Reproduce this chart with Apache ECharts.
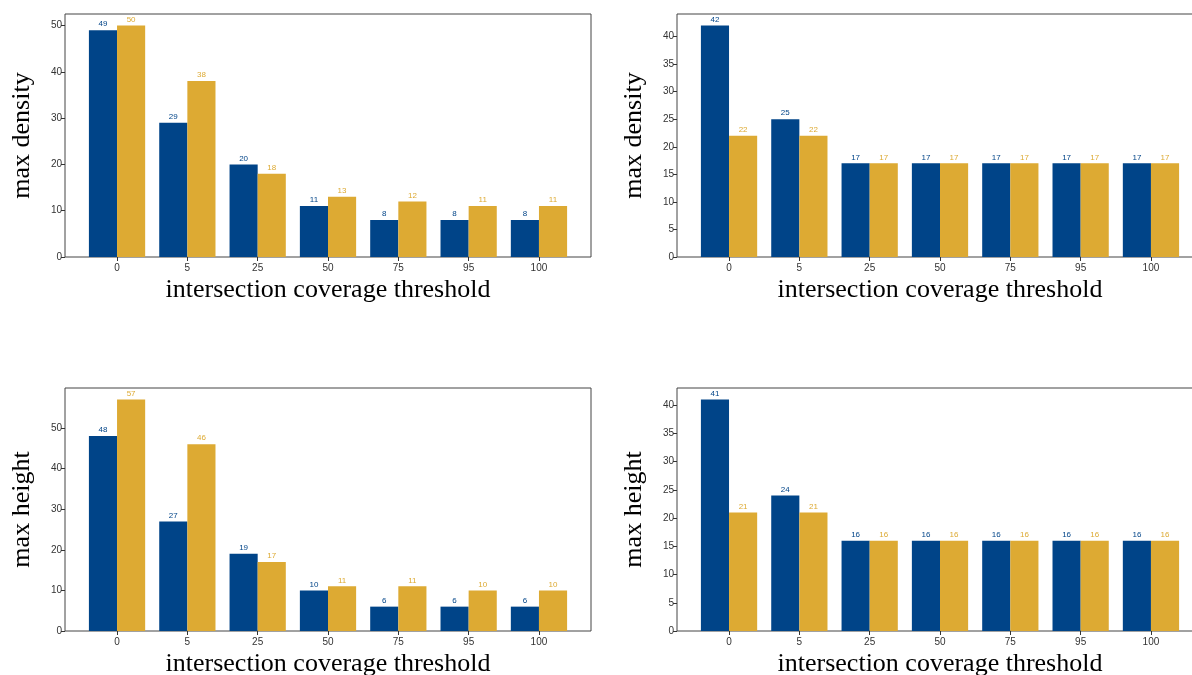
<!DOCTYPE html>
<html>
<head>
<meta charset="utf-8">
<script src="https://cdn.jsdelivr.net/npm/echarts@6/dist/echarts.min.js"></script>
<style>
  html, body { margin: 0; padding: 0; background: #fff; }
  #main { width: 1192px; height: 675px; }
</style>
</head>
<body>
<div id="main"></div>
<script>
// thresholds on the x axis
var categories = ["0", "5", "25", "50", "75", "95", "100"];

// top left: max density
var densityLeftBlue = [49, 29, 20, 11, 8, 8, 8];
var densityLeftGold = [50, 38, 18, 13, 12, 11, 11];
// top right: max density
var densityRightBlue = [42, 25, 17, 17, 17, 17, 17];
var densityRightGold = [22, 22, 17, 17, 17, 17, 17];
// bottom left: max height
var heightLeftBlue = [48, 27, 19, 10, 6, 6, 6];
var heightLeftGold = [57, 46, 17, 11, 11, 10, 10];
// bottom right: max height
var heightRightBlue = [41, 24, 16, 16, 16, 16, 16];
var heightRightGold = [21, 21, 16, 16, 16, 16, 16];

var yTicksTen = [0, 10, 20, 30, 40, 50];
var yTicksFive = [0, 5, 10, 15, 20, 25, 30, 35, 40];

var BLUE = "#004488",
  GOLD = "#DDAA33";

var chart = echarts.init(document.getElementById("main"));

// matplotlib style head room on top of the tallest bar
function yMax(a, b) {
  return Math.max.apply(null, a.concat(b)) * 1.05;
}

function toPoints(arr) {
  return arr.map(function(v, i) {
    return [i, v];
  });
}

var panels = [
  { left: 65, top: 14, name: "max density", ticks: yTicksTen, blue: densityLeftBlue, gold: densityLeftGold },
  { left: 677, top: 14, name: "max density", ticks: yTicksFive, blue: densityRightBlue, gold: densityRightGold },
  { left: 65, top: 388, name: "max height", ticks: yTicksTen, blue: heightLeftBlue, gold: heightLeftGold },
  { left: 677, top: 388, name: "max height", ticks: yTicksFive, blue: heightRightBlue, gold: heightRightGold }
];

var tickFont = { fontFamily: "Liberation Sans", fontSize: 10, color: "#333" };
var nameFont = { fontFamily: "Liberation Serif", fontSize: 26, color: "#000" };
var catIdx = categories.map(function(c, i) { return i; });

var grids = [], xAxes = [], yAxes = [], series = [];
panels.forEach(function(p, k) {
  grids.push({
    left: p.left,
    top: p.top,
    width: 526,
    height: 243,
    outerBoundsMode: "none",
    show: true,
    borderColor: "#444",
    borderWidth: 1,
    backgroundColor: "transparent"
  });
  xAxes.push({
    type: "value",
    gridIndex: k,
    min: -0.74,
    max: 6.74,
    splitLine: { show: false },
    axisLine: { show: false, onZero: false },
    axisTick: { show: true, length: 4, customValues: catIdx, lineStyle: { color: "#333" } },
    axisLabel: Object.assign({
      margin: 6,
      customValues: catIdx,
      formatter: function(v) { return categories[v]; }
    }, tickFont),
    name: "intersection coverage threshold",
    nameLocation: "middle",
    nameGap: 20,
    nameTextStyle: Object.assign({ verticalAlign: "top" }, nameFont)
  });
  yAxes.push({
    type: "value",
    gridIndex: k,
    min: 0,
    max: yMax(p.blue, p.gold),
    splitLine: { show: false },
    axisLine: { show: false, onZero: false },
    axisTick: { show: true, length: 4, customValues: p.ticks, lineStyle: { color: "#333" } },
    axisLabel: Object.assign({ margin: 3, customValues: p.ticks }, tickFont),
    name: p.name,
    nameLocation: "middle",
    nameGap: 30,
    nameTextStyle: nameFont
  });
  [[p.blue, BLUE], [p.gold, GOLD]].forEach(function(s) {
    series.push({
      type: "bar",
      xAxisIndex: k,
      yAxisIndex: k,
      data: toPoints(s[0]),
      barWidth: "40%",
      barGap: "0%",
      itemStyle: { color: s[1] },
      label: {
        show: true,
        position: "top",
        distance: 2,
        fontFamily: "Liberation Sans",
        fontSize: 8,
        color: s[1],
        formatter: function(params) { return params.value[1]; }
      }
    });
  });
});

var option = {
  animation: false,
  backgroundColor: "#fff",
  grid: grids,
  xAxis: xAxes,
  yAxis: yAxes,
  series: series
};
chart.setOption(option);
</script>
</body>
</html>
